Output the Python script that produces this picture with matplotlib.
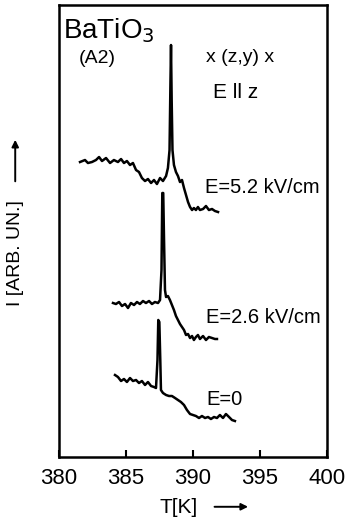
import matplotlib.pyplot as plt

plt.rcParams['font.family'] = ['Liberation Sans', 'DejaVu Sans']

# E = 5.2 kV/cm
t_52 = [381.57, 381.94, 382.16, 382.46, 382.76, 382.99, 383.21, 383.51, 383.81, 384.10,
        384.40, 384.63, 384.85, 385.07, 385.30, 385.52, 385.75, 385.97, 386.19, 386.42,
        386.64, 386.87, 387.09, 387.31, 387.54, 387.76, 387.99, 388.13, 388.25, 388.32,
        388.36, 388.41, 388.47, 388.58, 388.73, 388.88, 389.03, 389.18, 389.33, 389.48,
        389.63, 389.78, 389.93, 390.07, 390.22, 390.37, 390.52, 390.75, 390.97, 391.19,
        391.42, 391.64, 391.87]
i_52 = [295, 297, 294, 295, 297, 300, 296, 299, 294, 297,
        295, 298, 294, 296, 292, 294, 287, 285, 279, 276,
        278, 274, 277, 273, 279, 276, 281, 289, 307, 377,
        412, 357, 307, 292, 285, 281, 275, 277, 269, 262,
        255, 250, 247, 249, 247, 250, 247, 248, 251, 247,
        248, 246, 245]

# E = 2.6 kV/cm
t_26 = [384.03, 384.25, 384.48, 384.70, 384.93, 385.15, 385.37, 385.60, 385.82, 386.04,
        386.27, 386.49, 386.72, 386.94, 387.16, 387.39, 387.54, 387.65, 387.71, 387.78,
        387.84, 387.91, 387.99, 388.13, 388.28, 388.43, 388.58, 388.73, 388.88, 389.03,
        389.18, 389.33, 389.48, 389.63, 389.78, 389.93, 390.07, 390.22, 390.37, 390.52,
        390.75, 390.97, 391.19, 391.42, 391.64, 391.79]
i_26 = [154, 153, 155, 151, 153, 149, 154, 152, 155, 153,
        156, 154, 156, 153, 155, 154, 157, 187, 264, 264,
        217, 167, 160, 161, 157, 152, 147, 141, 137, 133,
        130, 127, 122, 123, 119, 121, 117, 120, 122, 118,
        121, 117, 120, 119, 118, 118]

# E = 0
t_0 = [384.18, 384.40, 384.63, 384.85, 385.07, 385.30, 385.52, 385.75, 385.97, 386.19,
       386.42, 386.64, 386.87, 387.09, 387.24, 387.35, 387.41, 387.49, 387.56, 387.61,
       387.76, 387.99, 388.21, 388.43, 388.66, 388.88, 389.10, 389.33, 389.55, 389.78,
       390.00, 390.22, 390.45, 390.67, 390.90, 391.12, 391.34, 391.57, 391.79, 392.01,
       392.24, 392.46, 392.69, 392.91, 393.13]
i_0 = [82, 80, 76, 78, 75, 79, 76, 77, 74, 76,
       72, 75, 71, 70, 69, 97, 137, 135, 97, 67,
       64, 62, 61, 61, 59, 57, 55, 52, 47, 43,
       42, 41, 39, 41, 39, 40, 38, 40, 39, 42,
       39, 43, 40, 37, 36]

xticks = [380, 385, 390, 395, 400]

fig = plt.figure(figsize=(3.46, 5.23), dpi=100)
ax = fig.add_axes([0.1705, 0.1262, 0.7745, 0.8642])

for t, i in [(t_52, i_52), (t_26, i_26), (t_0, i_0)]:
    ax.plot(t, i, color='black', lw=1.8)

ax.set_xlim(380, 400)
ax.set_ylim(0, 452)
ax.set_xticks(xticks)
ax.set_yticks([])
ax.tick_params(axis='x', direction='in', length=5, width=1.5, labelsize=16, pad=8)
for s in ax.spines.values():
    s.set_linewidth(1.8)

ax.text(380.3, 419, r'BaTiO$_3$', fontsize=20)
ax.text(381.5, 394, '(A2)', fontsize=14)
ax.text(391.0, 395, 'x (z,y) x', fontsize=14)
ax.text(391.5, 359, 'E ll z', fontsize=15)
ax.text(390.9, 264, 'E=5.2 kV/cm', fontsize=14.5)
ax.text(391.0, 134, 'E=2.6 kV/cm', fontsize=14.5)
ax.text(391.0, 52, 'E=0', fontsize=14.5)

# axis labels with long arrows
fig.text(0.044, 0.415, 'I [ARB. UN.]', rotation=90, fontsize=14,
         ha='center', va='bottom')
ax.annotate('', xy=(0.044, 0.738), xytext=(0.044, 0.648), xycoords='figure fraction',
            arrowprops=dict(arrowstyle='-|>', lw=1.4, color='black', mutation_scale=10))
fig.text(0.46, 0.03, 'T[K]', fontsize=15, ha='left', va='center')
ax.annotate('', xy=(0.725, 0.031), xytext=(0.612, 0.031), xycoords='figure fraction',
            arrowprops=dict(arrowstyle='-|>', lw=1.4, color='black', mutation_scale=10))

fig.savefig('out.png', dpi=100)
